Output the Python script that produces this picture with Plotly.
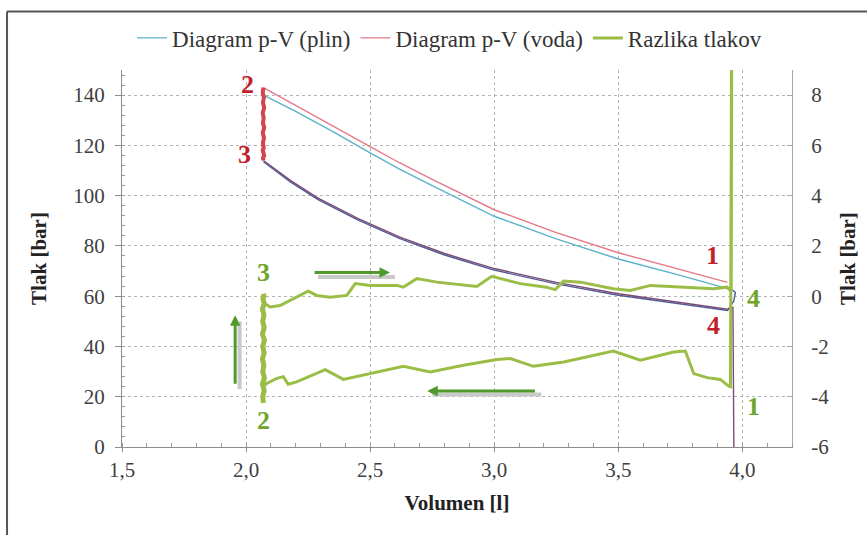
import plotly.graph_objects as go

# ---------------- data ----------------
# Diagram p-V (voda) – left axis [bar]
voda_up_V = [3.94, 3.75, 3.5, 3.25, 3.0, 2.75, 2.62, 2.5, 2.35, 2.2, 2.07]
voda_up_p = [65.5, 70.5, 77.3, 85.3, 94.4, 106.5, 113.0, 119.5, 127.8, 136.0, 143.0]
voda_jump_V = [2.07, 2.067, 2.072, 2.068, 2.073, 2.067, 2.071, 2.068, 2.073, 2.067, 2.072,
               2.068, 2.071, 2.067, 2.073, 2.068, 2.07]
voda_jump_p = [143, 141, 139, 137, 135, 133, 131, 129, 127, 125, 123, 121, 119, 118, 116, 115, 114]
voda_low_V = [2.07, 2.18, 2.29, 2.45, 2.62, 2.8, 3.0, 3.25, 3.5, 3.75, 3.94, 3.962, 3.965, 3.966]
voda_low_p = [114.0, 106.0, 99.0, 91.0, 83.5, 77.0, 71.0, 65.5, 61.0, 57.5, 54.8, 55.5, 20.0, -5.0]

# Diagram p-V (plin) – left axis [bar]
plin_up_V = [3.96, 3.94, 3.75, 3.5, 3.25, 3.0, 2.75, 2.62, 2.5, 2.35, 2.2, 2.07]
plin_up_p = [62.5, 63.0, 68.3, 74.8, 82.8, 91.8, 104.0, 110.5, 117.0, 125.5, 133.5, 140.0]
plin_low_V = [2.07, 2.18, 2.29, 2.45, 2.62, 2.8, 3.0, 3.25, 3.5, 3.75, 3.94, 3.965, 3.972, 3.96]
plin_low_p = [113.5, 105.4, 98.4, 90.4, 82.9, 76.4, 70.4, 64.9, 60.4, 56.9, 54.3, 58.0, 61.5, 62.5]

# Razlika tlakov – right axis [bar]
razl_low_V = [3.958, 3.952, 3.945, 3.911, 3.858, 3.804, 3.77, 3.723, 3.589, 3.48, 3.28,
              3.158, 3.065, 3.011, 2.876, 2.742, 2.634, 2.5, 2.392, 2.319, 2.204, 2.17,
              2.15, 2.124, 2.083, 2.07]
razl_low_d = [14.0, -3.6, -3.58, -3.31, -3.24, -3.08, -2.18, -2.22, -2.55, -2.18, -2.62,
              -2.79, -2.48, -2.52, -2.75, -3.01, -2.79, -3.08, -3.31, -2.92, -3.41, -3.5,
              -3.2, -3.27, -3.47, -3.6]
razl_jump_V = [2.07, 2.067, 2.073, 2.066, 2.074, 2.067, 2.072, 2.066, 2.073, 2.067, 2.074,
               2.066, 2.073, 2.067, 2.072, 2.066, 2.073, 2.068, 2.072, 2.07]
razl_jump_d = [-4.25, -4.0, -3.75, -3.5, -3.25, -3.0, -2.75, -2.5, -2.25, -2.0, -1.75,
               -1.5, -1.25, -1.0, -0.75, -0.5, -0.3, -0.1, 0.0, 0.1]
razl_up_V = [2.07, 2.077, 2.097, 2.137, 2.204, 2.25, 2.285, 2.339, 2.406, 2.44, 2.5, 2.608,
             2.633, 2.688, 2.769, 2.875, 2.93, 2.99, 3.024, 3.105, 3.21, 3.246, 3.28,
             3.347, 3.48, 3.548, 3.63, 3.75, 3.884, 3.938, 3.955, 3.958]
razl_up_d = [-0.3, -0.3, -0.43, -0.37, -0.04, 0.2, 0.03, -0.04, 0.03, 0.5, 0.43, 0.43,
             0.36, 0.7, 0.56, 0.43, 0.39, 0.79, 0.7, 0.5, 0.36, 0.26, 0.6,
             0.56, 0.3, 0.23, 0.43, 0.36, 0.3, 0.36, 0.2, 14.0]

# point labels: (text, V, value, axis, colour key)
labels = [
    ("2", 2.005, 144.3, "y", "red"), ("3", 1.995, 116.5, "y", "red"),
    ("1", 3.878, 76.0, "y", "red"), ("4", 3.884, 48.4, "y", "red"),
    ("3", 2.07, 0.96, "y2", "green"), ("2", 2.07, -4.93, "y2", "green"),
    ("4", 4.046, -0.1, "y2", "green"), ("1", 4.046, -4.4, "y2", "green"),
]
# direction arrows (head V, head p, tail V, tail p) on left axis
arrows = [(2.58, 69.4, 2.27, 69.4), (2.73, 22.3, 3.17, 22.3), (1.956, 52.4, 1.956, 24.6)]
# shadows under arrows (x0, y0, x1, y1)
shadows = [(2.29, 67.6, 2.6, 67.6), (2.75, 20.9, 3.19, 20.9), (1.974, 50.0, 1.974, 23.0)]

right_ticks = [-6, -4, -2, 0, 2, 4, 6, 8]
right_tick_text = ["-6", "-4", "-2", "0", "2", "4", "6", "8"]

# ---------------- figure ----------------
FONT = "Liberation Serif, Times New Roman, DejaVu Serif, serif"
C_PLIN = "#5bb3c9"
C_VODA = "#e57a88"
C_PLIN_LOW = "#4d5c9a"
C_VODA_LOW = "#7c4a72"
C_RAZL = "#9abd46"

fig = go.Figure()

fig.add_trace(go.Scatter(x=plin_up_V, y=plin_up_p, mode="lines", name="Diagram p-V (plin)",
                         legendgroup="plin", line=dict(color=C_PLIN, width=1.4)))
fig.add_trace(go.Scatter(x=plin_low_V, y=plin_low_p, mode="lines", showlegend=False,
                         legendgroup="plin", line=dict(color=C_PLIN_LOW, width=1.4)))
fig.add_trace(go.Scatter(x=voda_up_V, y=voda_up_p, mode="lines", name="Diagram p-V (voda)",
                         legendgroup="voda", line=dict(color=C_VODA, width=1.4)))
fig.add_trace(go.Scatter(x=voda_jump_V, y=voda_jump_p, mode="lines", showlegend=False,
                         legendgroup="voda", line=dict(color="#d2454f", width=4)))
fig.add_trace(go.Scatter(x=voda_low_V, y=voda_low_p, mode="lines", showlegend=False,
                         legendgroup="voda", line=dict(color=C_VODA_LOW, width=1.4)))

fig.add_trace(go.Scatter(x=razl_low_V + razl_up_V, y=razl_low_d + razl_up_d, mode="lines",
                         name="Razlika tlakov", yaxis="y2", legendgroup="razl",
                         line=dict(color=C_RAZL, width=3)))
fig.add_trace(go.Scatter(x=razl_jump_V, y=razl_jump_d, mode="lines", showlegend=False,
                         yaxis="y2", legendgroup="razl", line=dict(color=C_RAZL, width=5)))

colors = {"red": "#c21f2c", "green": "#6fa52b"}
for txt, xv, yv, ax, ck in labels:
    fig.add_annotation(x=xv, y=yv, xref="x", yref=ax, text=f"<b>{txt}</b>", showarrow=False,
                       font=dict(family=FONT, size=26, color=colors[ck]))

for x0, y0, x1, y1 in shadows:
    fig.add_shape(type="line", x0=x0, y0=y0, x1=x1, y1=y1, xref="x", yref="y",
                  line=dict(color="#c9c9c9", width=4))
for hx, hy, tx, ty in arrows:
    fig.add_annotation(x=hx, y=hy, ax=tx, ay=ty, xref="x", yref="y", axref="x", ayref="y",
                       showarrow=True, arrowhead=2, arrowsize=0.7, arrowwidth=3,
                       arrowcolor="#4f9a2a", text="")

# outer frame (left and top edges)
fig.add_shape(type="line", xref="paper", yref="paper", x0=-0.1716, x1=-0.1716, y0=-0.25, y1=1.155,
              line=dict(color="#555555", width=2))
fig.add_shape(type="line", xref="paper", yref="paper", x0=-0.1716, x1=1.2, y0=1.155, y1=1.155,
              line=dict(color="#555555", width=2))

tickfont = dict(family=FONT, size=21, color="#404040")
titlefont = dict(family=FONT, size=21, color="#222222")
grid = dict(showgrid=True, gridcolor="#b4b4b4", griddash="3px,3px", gridwidth=1)

fig.update_layout(
    width=867, height=535,
    margin=dict(l=122, r=75, t=70, b=88),
    paper_bgcolor="white", plot_bgcolor="white",
    separators=", ",
    font=dict(family=FONT, color="#333333"),
    showlegend=True,
    legend=dict(orientation="h", x=0.015, xanchor="left", y=1.085, yanchor="middle",
                font=dict(family=FONT, size=23, color="#333333"),
                itemwidth=30, bgcolor="rgba(0,0,0,0)"),
    xaxis=dict(range=[1.5, 4.2], dtick=0.5, tick0=1.5, tickformat=".1f", tickfont=tickfont,
               showline=True, linecolor="#8c8c8c", linewidth=1, zeroline=False,
               ticks="outside", ticklen=4, tickcolor="#8c8c8c",
               minor=dict(dtick=0.1, ticks="inside", ticklen=4, tickcolor="#9a9a9a", showgrid=False),
               title=dict(text="<b>Volumen [l]</b>", font=titlefont, standoff=14),
               automargin=False, **grid),
    yaxis=dict(range=[0, 150], dtick=20, tickfont=tickfont,
               showline=True, linecolor="#8c8c8c", linewidth=1, zeroline=False,
               ticks="outside", ticklen=6, tickcolor="#8c8c8c", ticklabelstandoff=6,
               minor=dict(dtick=4, ticks="inside", ticklen=3, tickcolor="#9a9a9a", showgrid=False),
               title=dict(text="<b>Tlak [bar]</b>", font=titlefont, standoff=20),
               automargin=False, **grid),
    yaxis2=dict(range=[-6, 9], tickmode="array", tickvals=right_ticks, ticktext=right_tick_text,
                overlaying="y", side="right", tickfont=tickfont,
                showline=True, linecolor="#a8a8a8", linewidth=1, zeroline=False, showgrid=False,
                ticks="inside", ticklen=5, tickcolor="#a8a8a8", ticklabelstandoff=14,
                title=dict(text="<b>Tlak [bar]</b>", font=titlefont, standoff=12),
                automargin=False),
)

fig.write_html("out.html")
